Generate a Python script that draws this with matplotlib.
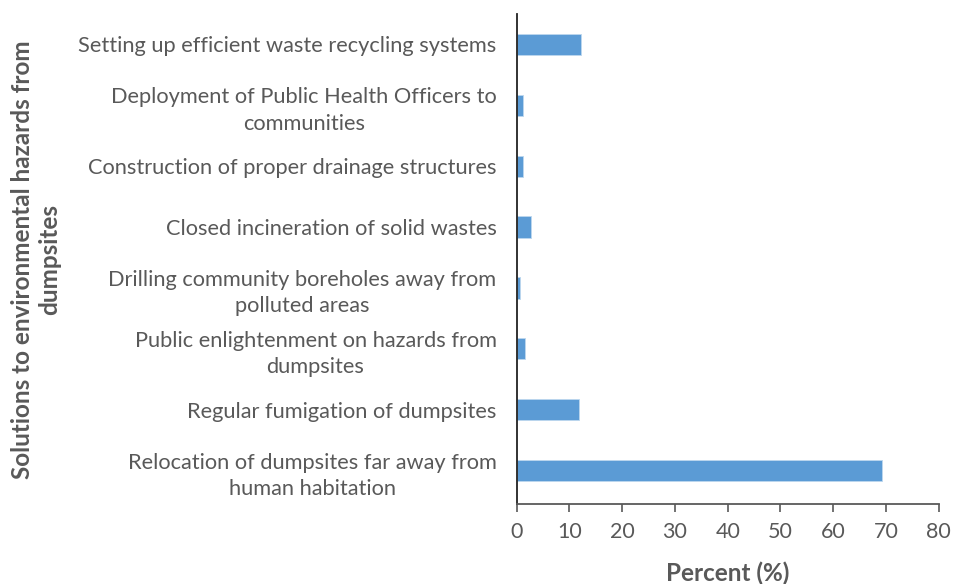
import matplotlib.pyplot as plt

solutions = [
    "Setting up efficient waste recycling systems",
    "Deployment of Public Health Officers to\ncommunities",
    "Construction of proper drainage structures",
    "Closed incineration of solid wastes",
    "Drilling community boreholes away from\npolluted areas",
    "Public enlightenment on hazards from\ndumpsites",
    "Regular fumigation of dumpsites",
    "Relocation of dumpsites far away from\nhuman habitation",
]
percent = [12.2, 1.1, 1.1, 2.7, 0.6, 1.5, 11.8, 69.3]

plt.rcParams['font.family'] = ['Lato', 'DejaVu Sans']
text_grey = '#595959'

fig = plt.figure(figsize=(9.54, 5.84), dpi=100)
ax = fig.add_axes([516.7 / 954, 80 / 584, 422 / 954, 490 / 584])

pos = list(range(len(solutions)))[::-1]
ax.barh(pos, percent, height=0.35, color='#5b9bd5', edgecolor='#bdd7ee', linewidth=0.6)

ax.set_xlim(0, 80)
ax.set_ylim(-0.55, 7.5)
ax.set_xticks(range(0, 81, 10))
ax.set_yticks(pos)
ax.set_yticklabels(solutions, multialignment='center', linespacing=1.4)

ax.tick_params(axis='y', length=0, pad=14.5, labelsize=15.7, labelcolor=text_grey)
ax.tick_params(axis='x', length=6, width=1.2, color='#595959', labelsize=15.5,
               labelcolor=text_grey, pad=7)

for side in ['top', 'right']:
    ax.spines[side].set_visible(False)
ax.spines['left'].set_color('#222222')
ax.spines['left'].set_linewidth(1.3)
ax.spines['bottom'].set_color('#595959')
ax.spines['bottom'].set_linewidth(1.3)

ax.set_xlabel('Percent (%)', fontsize=17.5, fontweight='bold', color=text_grey, labelpad=14)
fig.text(0.038, 0.555, 'Solutions to environmental hazards from\ndumpsites',
         rotation=90, ha='center', va='center', multialignment='center',
         linespacing=1.2, fontsize=17.5, fontweight='bold', color=text_grey)

fig.savefig('out.png', dpi=100)
